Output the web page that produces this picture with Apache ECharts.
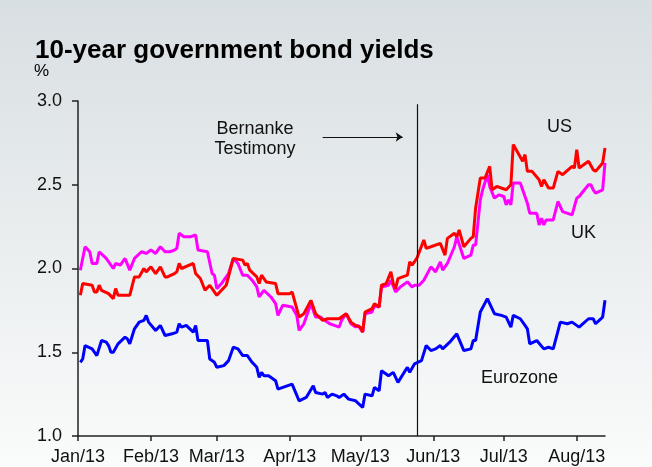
<!DOCTYPE html>
<html>
<head>
<meta charset="utf-8">
<script src="https://cdn.jsdelivr.net/npm/echarts@6/dist/echarts.min.js"></script>
<style>
html,body{margin:0;padding:0;}
#chart{width:652px;height:467px;}
</style>
</head>
<body>
<div id="chart"></div>
<script>
// x values are days since 1 Jan 2013
const monthStartDays = [0, 31, 59, 90, 120, 151, 181, 212];
const monthLabels = ['Jan/13', 'Feb/13', 'Mar/13', 'Apr/13', 'May/13', 'Jun/13', 'Jul/13', 'Aug/13'];
const yTicks = [1.0, 1.5, 2.0, 2.5, 3.0];

const usDays = [1,2,6,7,8,9,10,13,15,16,17,22,24,26,28,29,31,33,35,37,38,41,42,43,44,49,50,52,54,56,59,63,66,70,71,72,73,76,77,78,80,84,85,90,91,94,96,99,101,104,106,111,112,114,116,118,120,121,122,125,126,128,129,131,133,134,135,136,140,141,142,144,147,148,150,154,156,157,160,161,162,164,167,168,169,171,173,175,176,178,182,184,185,189,190,191,193,196,197,198,200,202,204,206,210,211,212,213,217,219,220,223,224];
const usVals = [1.84,1.91,1.90,1.86,1.86,1.90,1.87,1.85,1.82,1.88,1.84,1.84,1.95,1.95,2.00,1.98,2.01,1.97,2.01,1.95,1.95,1.97,1.98,2.03,2.00,2.03,1.97,1.94,1.87,1.90,1.84,1.90,2.06,2.05,2.02,2.03,1.99,1.95,1.91,1.96,1.92,1.91,1.85,1.85,1.86,1.71,1.73,1.81,1.73,1.69,1.70,1.70,1.71,1.73,1.68,1.66,1.65,1.62,1.74,1.76,1.79,1.77,1.90,1.91,1.98,1.91,1.88,1.94,1.96,2.04,2.02,2.06,2.17,2.12,2.13,2.15,2.08,2.18,2.21,2.19,2.23,2.13,2.18,2.19,2.36,2.54,2.54,2.61,2.47,2.49,2.47,2.50,2.74,2.64,2.68,2.58,2.58,2.53,2.49,2.53,2.48,2.48,2.58,2.56,2.61,2.60,2.71,2.60,2.64,2.59,2.58,2.63,2.72];

const ukDays = [1,3,5,6,8,9,12,15,16,18,20,22,24,27,29,31,33,35,37,39,41,42,43,45,48,50,51,55,57,58,59,61,62,64,66,68,70,72,74,76,77,79,82,84,85,87,91,93,94,96,99,101,103,105,107,109,111,112,114,116,118,119,121,122,125,126,128,129,132,133,135,137,140,142,143,145,147,150,152,154,155,157,160,161,164,167,168,169,171,172,174,175,177,179,181,182,183,184,185,188,190,191,192,195,196,197,198,199,202,204,206,210,212,213,217,218,219,220,223,224];
const ukVals = [1.99,2.13,2.10,2.03,2.03,2.10,2.06,2.00,2.03,2.02,2.06,1.99,2.06,2.10,2.09,2.11,2.09,2.13,2.10,2.10,2.11,2.12,2.21,2.19,2.19,2.20,2.11,2.10,1.97,1.96,1.88,1.91,1.93,1.97,2.06,2.03,1.96,1.96,1.93,1.89,1.83,1.87,1.83,1.79,1.72,1.78,1.77,1.72,1.63,1.67,1.79,1.71,1.71,1.69,1.67,1.66,1.65,1.69,1.73,1.67,1.65,1.66,1.62,1.73,1.74,1.78,1.77,1.89,1.90,1.93,1.86,1.89,1.92,1.89,1.90,1.90,1.93,2.01,1.98,2.04,1.99,2.03,2.13,2.19,2.06,2.08,2.14,2.14,2.41,2.47,2.56,2.49,2.42,2.44,2.43,2.38,2.41,2.38,2.51,2.51,2.43,2.39,2.33,2.33,2.26,2.30,2.26,2.29,2.29,2.40,2.34,2.32,2.42,2.43,2.50,2.50,2.47,2.45,2.47,2.63];

const ezDays = [1,2,3,6,8,10,12,13,14,15,17,20,21,22,24,26,28,29,30,33,35,37,40,42,43,44,46,49,50,51,55,56,58,59,62,64,66,68,70,72,74,76,77,78,79,81,84,85,91,94,97,100,101,104,105,106,108,110,111,113,115,118,121,122,125,126,128,129,132,134,136,140,141,143,146,148,150,152,154,155,158,161,164,167,168,169,171,174,177,180,182,184,185,188,190,191,192,195,198,200,202,205,208,210,213,217,219,220,223,224];
const ezVals = [1.44,1.46,1.54,1.52,1.48,1.57,1.56,1.54,1.50,1.50,1.55,1.59,1.58,1.55,1.64,1.68,1.69,1.72,1.68,1.63,1.66,1.60,1.61,1.62,1.67,1.65,1.66,1.62,1.66,1.57,1.57,1.46,1.44,1.41,1.42,1.45,1.53,1.52,1.48,1.48,1.44,1.41,1.35,1.38,1.36,1.36,1.33,1.28,1.31,1.21,1.23,1.30,1.26,1.25,1.26,1.23,1.25,1.24,1.23,1.25,1.22,1.21,1.17,1.25,1.24,1.29,1.27,1.39,1.36,1.38,1.32,1.41,1.38,1.43,1.45,1.54,1.51,1.52,1.54,1.52,1.56,1.61,1.51,1.52,1.57,1.57,1.74,1.82,1.73,1.72,1.71,1.65,1.72,1.70,1.66,1.64,1.55,1.57,1.52,1.53,1.52,1.68,1.67,1.68,1.65,1.70,1.70,1.67,1.71,1.81];

const testimonyDay = 144;

function pairs(d, v) { return d.map((x, i) => [x, v[i]]); }

const FONT = '"Liberation Sans", Arial, sans-serif';
const chart = echarts.init(document.getElementById('chart'));

chart.setOption({
  animation: false,
  backgroundColor: new echarts.graphic.LinearGradient(0, 0, 0, 1, [
    { offset: 0, color: '#d8dfe2' },
    { offset: 1, color: '#fafbfb' }
  ]),
  title: [
    { text: '10-year government bond yields', left: 30, top: 33,
      textStyle: { fontFamily: FONT, fontSize: 26, fontWeight: 'bold', color: '#000' } },
    { text: '%', left: 29, top: 58,
      textStyle: { fontFamily: FONT, fontSize: 17, fontWeight: 'normal', color: '#000' } }
  ],
  grid: { left: 78, right: 47, top: 101, bottom: 31, containLabel: false },
  xAxis: {
    type: 'value', min: 0, max: 224,
    axisLine: { show: true, onZero: false, lineStyle: { color: '#222', width: 1.5 } },
    axisTick: { show: true, length: 5, customValues: monthStartDays, lineStyle: { color: '#222', width: 1.5 } },
    axisLabel: {
      customValues: monthStartDays, margin: 12,
      formatter: v => monthLabels[monthStartDays.indexOf(v)] || '',
      fontFamily: FONT, fontSize: 18, color: '#111'
    },
    splitLine: { show: false }
  },
  yAxis: {
    type: 'value', min: 1, max: 3, interval: 0.5,
    axisLine: { show: true, lineStyle: { color: '#222', width: 1.5 } },
    axisTick: { show: true, length: 6, lineStyle: { color: '#222', width: 1.5 } },
    axisLabel: {
      margin: 16, formatter: v => v.toFixed(1),
      fontFamily: FONT, fontSize: 18, color: '#111'
    },
    splitLine: { show: false }
  },
  series: [
    { name: 'UK', type: 'line', data: pairs(ukDays, ukVals), showSymbol: false,
      lineStyle: { color: '#ff00ff', width: 3 }, itemStyle: { color: '#ff00ff' }, z: 2 },
    { name: 'US', type: 'line', data: pairs(usDays, usVals), showSymbol: false,
      lineStyle: { color: '#ff0000', width: 3 }, itemStyle: { color: '#ff0000' }, z: 3,
      markLine: {
        silent: true, animation: false,
        label: { show: false },
        data: [
          [ { coord: [testimonyDay, 2.98], symbol: 'none', lineStyle: { color: '#111', width: 1.2, type: 'solid' } },
            { coord: [testimonyDay, 1.0], symbol: 'none' } ],
          [ { coord: [104, 2.785], symbol: 'none', lineStyle: { color: '#111', width: 1, type: 'solid' } },
            { coord: [138, 2.785], symbol: 'arrow', symbolSize: 7 } ]
        ]
      }
    },
    { name: 'Eurozone', type: 'line', data: pairs(ezDays, ezVals), showSymbol: false,
      lineStyle: { color: '#0000ff', width: 3 }, itemStyle: { color: '#0000ff' }, z: 2 }
  ],
  graphic: [
    { type: 'text', left: 547, top: 118, style: { text: 'US', font: '18px ' + FONT, fill: '#111' } },
    { type: 'text', left: 571, top: 224, style: { text: 'UK', font: '18px ' + FONT, fill: '#111' } },
    { type: 'text', left: 481, top: 369, style: { text: 'Eurozone', font: '18px ' + FONT, fill: '#111' } },
    { type: 'text', x: 255, y: 119, style: { text: 'Bernanke\nTestimony', font: '18px ' + FONT, fill: '#111', textAlign: 'center', lineHeight: 20 } }
  ]
});
</script>
</body>
</html>
